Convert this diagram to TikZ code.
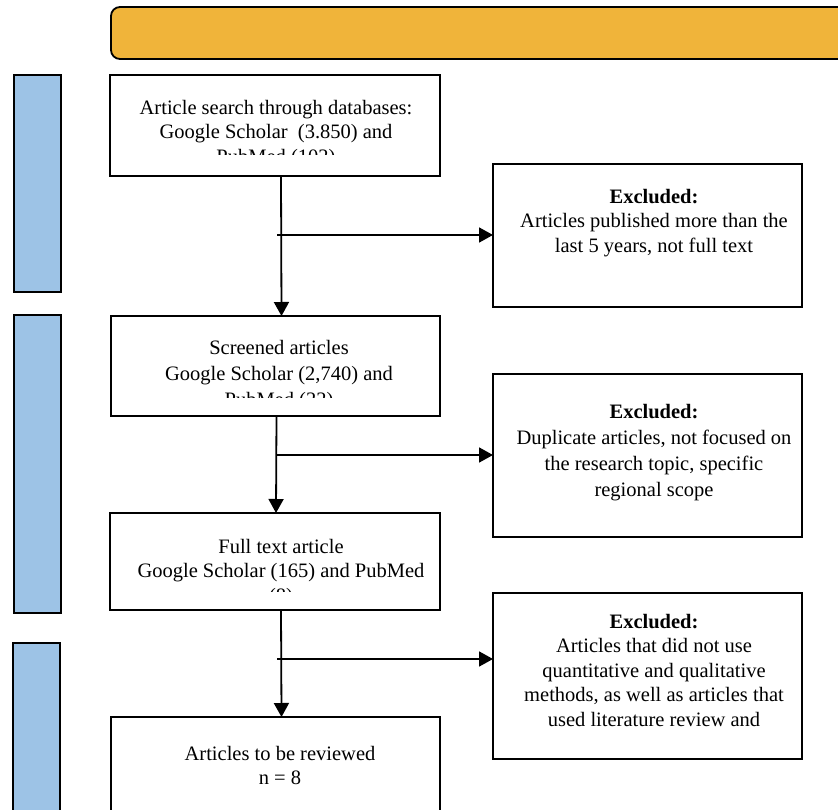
\documentclass[tikz,border=0pt]{standalone}
\usepackage{fontspec}
\setmainfont{Liberation Serif}
\usetikzlibrary{arrows.meta,positioning}

\definecolor{bannerorange}{RGB}{240,180,58}
\definecolor{phaseblue}{RGB}{157,195,230}

\begin{document}
\begin{tikzpicture}[x=1pt,y=-1pt,
    box/.style={draw,line width=1.8pt,anchor=north west,inner sep=0pt,outer sep=0pt},
    phase/.style={box,fill=phaseblue,minimum width=47pt},
    txt/.style={anchor=north,align=center,inner sep=0pt,font=\fontsize{20.5}{24.5}\selectfont},
    flow/.style={line width=1.8pt,-{Triangle[width=15pt,length=14pt]}}]
\useasboundingbox (0,0) rectangle (838,810);
% banner and phase bars
\node[box,fill=bannerorange,rounded corners=9pt,minimum width=760pt,minimum height=52pt] (banner) at (111,7) {};
\node[phase,minimum height=217pt] (phase1) at (14,75) {};
\node[phase,minimum height=298pt] (phase2) at (14,315) {};
\node[phase,minimum height=200pt] (phase3) at (13,643) {};
% main boxes
\node[box,minimum width=330pt,minimum height=101pt] (search) at (110,75) {};
\node[box,minimum width=329pt,minimum height=100pt] (screen) at (111,316) {};
\node[box,minimum width=330pt,minimum height=97pt] (fulltext) at (110,513) {};
\node[box,minimum width=329pt,minimum height=130pt] (review) at (111,717) {};
% exclusion boxes
\node[box,minimum width=309pt,minimum height=143pt] (excl1) at (493,164) {};
\node[box,minimum width=309pt,minimum height=163pt] (excl2) at (493,374) {};
\node[box,minimum width=309pt,minimum height=166pt] (excl3) at (493,593) {};

% texts, cut at the box text area
\begin{scope}
\clip (search.north west) rectangle (440,155);
\node[txt] (searchtxt) at (276,100) {Article search through databases:\\Google Scholar\ \ (3.850) and\\PubMed (102)};
\end{scope}
\begin{scope}
\clip (screen.north west) rectangle (440,397);
\node[txt,font=\fontsize{20.5}{26}\selectfont] (screentxt) at (279,340) {Screened articles\\Google Scholar (2,740) and\\PubMed (22)};
\end{scope}
\begin{scope}
\clip (fulltext.north west) rectangle (440,591);
\node[txt] (fulltexttxt) at (281,539) {Full text article\\Google Scholar (165) and PubMed\\(8)};
\end{scope}
\node[txt] (reviewtxt) at (280,746) {Articles to be reviewed\\n = 8};

\node[txt] (excl1txt) at (654,189) {\textbf{Excluded:}\\Articles published more than the\\last 5 years, not full text};
\node[txt,font=\fontsize{20.5}{26}\selectfont] (excl2txt) at (654,404) {\textbf{Excluded:}\\Duplicate articles, not focused on\\the research topic, specific\\regional scope};
\node[txt] (excl3txt) at (654,614) {\textbf{Excluded:}\\Articles that did not use\\quantitative and qualitative\\methods, as well as articles that\\used literature review and};

% flow
\draw[flow] ([xshift=6pt]search.south) -- ([xshift=6pt]screen.north);
\draw[flow] ([xshift=1pt]screen.south) -- ([xshift=1pt]fulltext.north);
\draw[flow] ([xshift=6pt]fulltext.south) -- ([xshift=6pt]review.north);
\coordinate (split1) at (277,235);
\coordinate (split2) at (277,455);
\coordinate (split3) at (277,659);
\draw[flow] (split1) -- (split1 -| excl1.west);
\draw[flow] (split2) -- (split2 -| excl2.west);
\draw[flow] (split3) -- (split3 -| excl3.west);
\end{tikzpicture}
\end{document}
